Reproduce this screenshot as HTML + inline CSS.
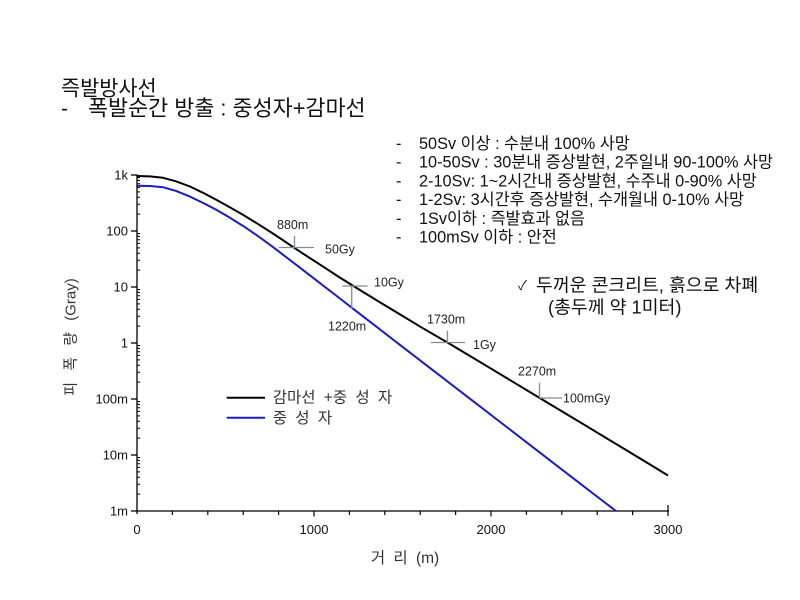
<!DOCTYPE html>
<html>
<head>
<meta charset="utf-8">
<style>
  html, body { margin: 0; padding: 0; background: #ffffff; }
  body { width: 800px; height: 600px; overflow: hidden; }
  svg { display: block; }
  .k { font-family: "Liberation Sans", "Noto Sans CJK KR", sans-serif; }
</style>
</head>
<body>
<svg width="800" height="600" viewBox="0 0 800 600" xmlns="http://www.w3.org/2000/svg">
  <rect x="0" y="0" width="800" height="600" fill="#ffffff"/>

  <!-- Title -->
  <text class="k" x="61" y="95.5" font-size="20.8" fill="#111">즉발방사선</text>
  <text class="k" x="61" y="115.5" font-size="21" fill="#111">-</text>
  <text class="k" x="88" y="115.5" font-size="21.8" fill="#111">폭발순간 방출 : 중성자+감마선</text>

  <!-- Right bullet block -->
  <g class="k" font-size="16.3" fill="#111">
    <text x="396" y="149">-</text><text x="419" y="149">50Sv 이상 : 수분내 100% 사망</text>
    <text x="396" y="167.7">-</text><text x="419" y="167.7">10-50Sv : 30분내 증상발현, 2주일내 90-100% 사망</text>
    <text x="396" y="186.4">-</text><text x="419" y="186.4">2-10Sv: 1~2시간내 증상발현, 수주내 0-90% 사망</text>
    <text x="396" y="205.1">-</text><text x="419" y="205.1">1-2Sv: 3시간후 증상발현, 수개월내 0-10% 사망</text>
    <text x="396" y="223.8">-</text><text x="419" y="223.8">1Sv이하 : 즉발효과 없음</text>
    <text x="396" y="242.5">-</text><text x="419" y="242.5">100mSv 이하 : 안전</text>
  </g>

  <!-- Check block -->
  <text class="k" x="518" y="290" font-size="13" fill="#111">✓</text>
  <g class="k" font-size="18.3" fill="#111">
    <text x="536" y="291.5">두꺼운 콘크리트, 흙으로 차폐</text>
    <text x="548" y="313.5">(총두께 약 1미터)</text>
  </g>

  <!-- Axes -->
  <g stroke="#000" stroke-width="1.3" fill="none">
    <line x1="137" y1="174.5" x2="137" y2="514"/>
    <line x1="131" y1="511" x2="669" y2="511"/>
    <line x1="131" y1="175" x2="137" y2="175"/>
    <line x1="131" y1="231" x2="137" y2="231"/>
    <line x1="131" y1="287" x2="137" y2="287"/>
    <line x1="131" y1="343" x2="137" y2="343"/>
    <line x1="131" y1="399" x2="137" y2="399"/>
    <line x1="131" y1="455" x2="137" y2="455"/>
  </g>
  <!-- y minor ticks -->
  <g stroke="#000" stroke-width="1">
    <path d="
      M137 494.1h3 M137 484.3h3 M137 477.3h3 M137 471.9h3 M137 467.4h3 M137 463.7h3 M137 460.4h3 M137 457.6h3
      M137 438.1h3 M137 428.3h3 M137 421.3h3 M137 415.9h3 M137 411.4h3 M137 407.7h3 M137 404.4h3 M137 401.6h3
      M137 382.1h3 M137 372.3h3 M137 365.3h3 M137 359.9h3 M137 355.4h3 M137 351.7h3 M137 348.4h3 M137 345.6h3
      M137 326.1h3 M137 316.3h3 M137 309.3h3 M137 303.9h3 M137 299.4h3 M137 295.7h3 M137 292.4h3 M137 289.6h3
      M137 270.1h3 M137 260.3h3 M137 253.3h3 M137 247.9h3 M137 243.4h3 M137 239.7h3 M137 236.4h3 M137 233.6h3
      M137 214.1h3 M137 204.3h3 M137 197.3h3 M137 191.9h3 M137 187.4h3 M137 183.7h3 M137 180.4h3 M137 177.6h3
    "/>
  </g>
  <!-- x ticks -->
  <g stroke="#000" stroke-width="1.2">
    <path d="
      M172.4 511v4 M207.8 511v4 M243.2 511v4 M278.6 511v4 M314 511v5.5
      M349.4 511v4 M384.8 511v4 M420.2 511v4 M455.6 511v4 M491 511v5.5
      M526.4 511v4 M561.8 511v4 M597.2 511v4 M632.6 511v4 M668 505v11
    "/>
  </g>

  <!-- Tick labels -->
  <g font-family="Liberation Sans, sans-serif" font-size="13" fill="#111" text-anchor="end">
    <text x="128" y="179.5">1k</text>
    <text x="128" y="235.5">100</text>
    <text x="128" y="291.5">10</text>
    <text x="128" y="347.5">1</text>
    <text x="128" y="403.5">100m</text>
    <text x="128" y="459.5">10m</text>
    <text x="128" y="515.5">1m</text>
  </g>
  <g font-family="Liberation Sans, sans-serif" font-size="13" fill="#111" text-anchor="middle">
    <text x="137" y="534">0</text>
    <text x="314" y="534">1000</text>
    <text x="491" y="534">2000</text>
    <text x="668" y="534">3000</text>
  </g>

  <!-- Axis titles -->
  <text class="k" x="405" y="563" font-size="15.5" fill="#333" text-anchor="middle" word-spacing="4">거 리 (m)</text>
  <text class="k" transform="translate(75.5,337) rotate(-90)" font-size="15" fill="#333" text-anchor="middle" word-spacing="7">피 폭 량 (Gray)</text>

  <!-- Curves -->
  <polyline fill="none" stroke="#000" stroke-width="2" stroke-linejoin="round"
    points="137,176 150,176.4 163,177.8 176,181.3 190,186.5 203,192.8 216.7,200 230,207.4 243.3,215 256.7,223.2 270,231.6 282,239.5 294,247.7 309,257.5 324,267.2 339,277 355,287 377,300.5 400,314.4 423,328.3 447,342.3 470,356 493,369.8 516,383.7 539.5,397.9 562,411.4 585,425.2 607,438.5 630,452.4 649,463.9 668,475.5"/>
  <polyline fill="none" stroke="#1a1acc" stroke-width="2" stroke-linejoin="round"
    points="137,185.7 150,186 163.3,187.3 176,190.9 190,196.6 203,202.9 216.7,210 230,217.8 243.3,226.1 256.7,235.2 270,244.8 283,254.7 296.7,265.2 310,275.4 323.3,285.7 338,297 353,308.7 375,325.6 400,344.9 440,375.7 473,401.1 506.7,427 540,452.7 573.3,478.3 595,495 616,511"/>

  <!-- Crosshair markers -->
  <g stroke="#7d8c9c" stroke-width="1.3" fill="none">
    <line x1="279" y1="247.5" x2="314" y2="247.5"/>
    <line x1="294.5" y1="236" x2="294.5" y2="247.5"/>
    <line x1="342.5" y1="286" x2="367.5" y2="286"/>
    <line x1="351.7" y1="286" x2="351.7" y2="309"/>
    <line x1="430.7" y1="342.5" x2="465" y2="342.5"/>
    <line x1="447.5" y1="330.7" x2="447.5" y2="342.5"/>
    <line x1="539.5" y1="382.7" x2="539.5" y2="398"/>
    <line x1="539.5" y1="398" x2="562" y2="398"/>
  </g>
  <g font-family="Liberation Sans, sans-serif" font-size="12.5" fill="#222">
    <text x="277" y="229">880m</text>
    <text x="325" y="253.5">50Gy</text>
    <text x="374" y="286.5">10Gy</text>
    <text x="328" y="330.5">1220m</text>
    <text x="427" y="323.5">1730m</text>
    <text x="473" y="349">1Gy</text>
    <text x="518" y="375.5">2270m</text>
    <text x="563" y="402.5">100mGy</text>
  </g>

  <!-- Legend -->
  <line x1="226.7" y1="397.7" x2="265" y2="397.7" stroke="#000" stroke-width="2"/>
  <line x1="226.7" y1="417.7" x2="265" y2="417.7" stroke="#1a1acc" stroke-width="2"/>
  <g class="k" font-size="15.5" fill="#333" word-spacing="4">
    <text x="272.7" y="402.5">감마선 +중 성 자</text>
    <text x="272.7" y="423">중 성 자</text>
  </g>
</svg>
</body>
</html>
